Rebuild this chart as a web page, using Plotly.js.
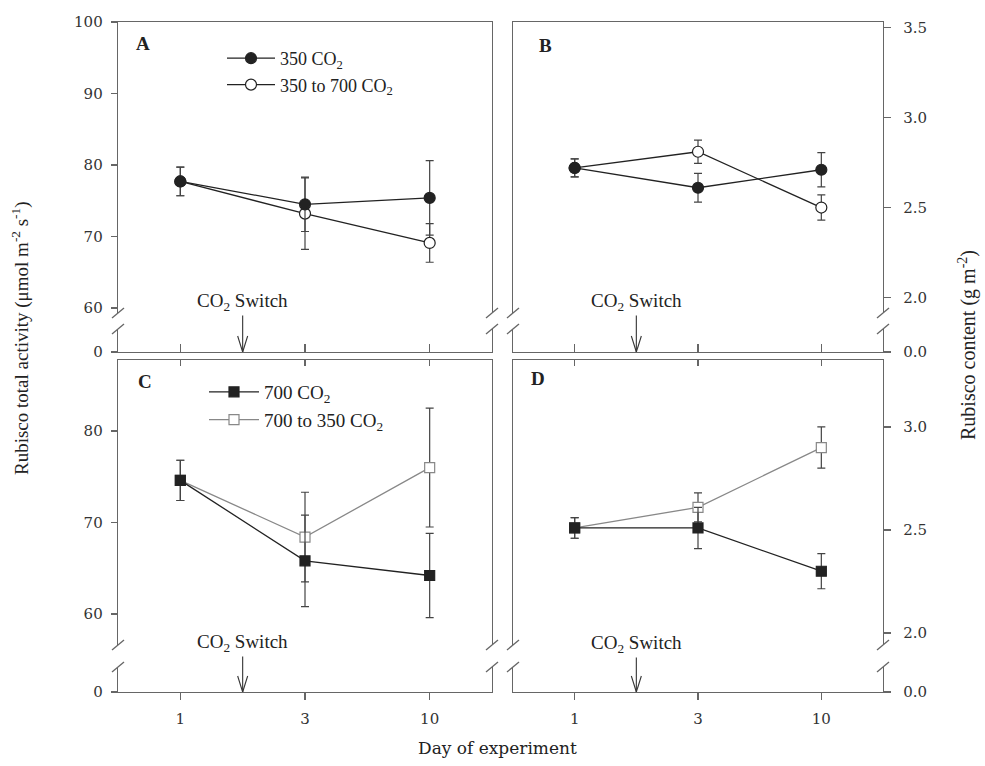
<!DOCTYPE html>
<html>
<head>
<meta charset="utf-8">
<script src="https://cdn.plot.ly/plotly-3.0.1.min.js"></script>
<style>html,body{margin:0;padding:0;background:#fff;}#chart{width:985px;height:766px;}</style>
</head>
<body>
<div id="chart"></div>
<script>
// ---------------- data ----------------
const days = ['1', '3', '10'];

// Panel A: Rubisco total activity, plants started at 350
const activity350 = [77.7, 74.5, 75.4];
const activity350Err = [2.0, 3.8, 5.2];
const activity350to700 = [77.7, 73.2, 69.1];
const activity350to700Err = [2.0, 5.0, 2.7];

// Panel B: Rubisco content, plants started at 350
const content350 = [2.72, 2.61, 2.71];
const content350Err = [0.05, 0.08, 0.095];
const content350to700 = [2.72, 2.81, 2.50];
const content350to700Err = [0.05, 0.065, 0.07];

// Panel C: Rubisco total activity, plants started at 700
const activity700 = [74.6, 65.8, 64.2];
const activity700Err = [2.2, 5.0, 4.6];
const activity700to350 = [74.6, 68.4, 76.0];
const activity700to350Err = [2.2, 4.9, 6.5];

// Panel D: Rubisco content, plants started at 700
const content700 = [2.51, 2.51, 2.30];
const content700Err = [0.05, 0.10, 0.085];
const content700to350 = [2.51, 2.61, 2.90];
const content700to350Err = [0.05, 0.07, 0.10];

// tick labels
const activityTicksTop = [60, 70, 80, 90, 100];
const activityTicksBottom = [60, 70, 80];
const contentTicksTop = [2.0, 2.5, 3.0, 3.5];
const contentTicksBottom = [2.0, 2.5, 3.0];
const breakTicks = [0];

const names = {
  c350: '350 CO<sub>2</sub>',
  s350: '350 to 700 CO<sub>2</sub>',
  c700: '700 CO<sub>2</sub>',
  s700: '700 to 350 CO<sub>2</sub>'
};
const switchLabel = 'CO<sub>2</sub> Switch';

// ---------------- layout geometry ----------------
const W = 985, H = 766;
const px = v => v / W;
const py = v => 1 - v / H;
const colL = [px(118), px(492)];
const colR = [px(513), px(883)];
const topMain = [py(313), py(22)];
const topStub = [py(352), py(329)];
const botMain = [py(645), py(360)];
const botStub = [py(692), py(667)];

const serif = 'Liberation Serif, Times New Roman, serif';
const tickFont = {family: 'DejaVu Serif, serif', size: 15, color: '#333'};
const lineCol = '#666';
const base = {showline: true, linecolor: lineCol, linewidth: 1.3, showgrid: false, zeroline: false,
  tickcolor: lineCol, tickwidth: 1.3, fixedrange: true, tickfont: tickFont};

function trace(y, err, xa, ya, opts) {
  return {
    type: 'scatter', mode: 'lines+markers', x: days, y: y, xaxis: xa, yaxis: ya,
    name: opts.name, showlegend: !!opts.legend, legend: opts.legend || 'legend',
    legendrank: opts.rank || 1000,
    line: {color: opts.lineColor, width: 1.3},
    marker: {symbol: opts.symbol, size: opts.size || 11, color: opts.fill,
      line: {color: opts.edge, width: 1.2}},
    error_y: {type: 'data', array: err, visible: true, color: '#444', thickness: 1.2, width: 4},
    cliponaxis: false
  };
}
function frameTrace(xa, ya) {
  return {type: 'scatter', mode: 'markers', x: [null], y: [null], xaxis: xa, yaxis: ya,
    showlegend: false, hoverinfo: 'skip'};
}

const openCircle = {symbol: 'circle', fill: '#fff', edge: '#222', lineColor: '#222'};
const fullCircle = {symbol: 'circle', fill: '#222', edge: '#222', lineColor: '#222'};
const openSquare = {symbol: 'square', fill: '#fff', edge: '#888', lineColor: '#888', size: 10};
const fullSquare = {symbol: 'square', fill: '#222', edge: '#222', lineColor: '#222', size: 10};

const data = [
  trace(activity350to700, activity350to700Err, 'x', 'y', Object.assign({name: names.s350, legend: 'legend', rank: 2}, openCircle)),
  trace(activity350, activity350Err, 'x', 'y', Object.assign({name: names.c350, legend: 'legend', rank: 1}, fullCircle)),
  trace(content350to700, content350to700Err, 'x2', 'y2', Object.assign({name: names.s350}, openCircle)),
  trace(content350, content350Err, 'x2', 'y2', Object.assign({name: names.c350}, fullCircle)),
  trace(activity700to350, activity700to350Err, 'x3', 'y3', Object.assign({name: names.s700, legend: 'legend2', rank: 2}, openSquare)),
  trace(activity700, activity700Err, 'x3', 'y3', Object.assign({name: names.c700, legend: 'legend2', rank: 1}, fullSquare)),
  trace(content700to350, content700to350Err, 'x4', 'y4', Object.assign({name: names.s700}, openSquare)),
  trace(content700, content700Err, 'x4', 'y4', Object.assign({name: names.c700}, fullSquare)),
  frameTrace('x5', 'y'), frameTrace('x6', 'y2'), frameTrace('x7', 'y3'), frameTrace('x8', 'y4')
];

const tickIdx = days.map((d, i) => i);
function xBottom(domain, anchor, labels) {
  return Object.assign({}, base, {domain: domain, anchor: anchor, type: 'category',
    range: [-0.5, 2.5], ticks: labels ? 'outside' : 'inside', ticklen: labels ? 7 : 8,
    showticklabels: labels, ticklabelstandoff: 6});
}
function xTop(over, domain, anchor, withTicks) {
  return Object.assign({}, base, {overlaying: over, domain: domain, anchor: anchor, side: 'top',
    type: 'linear', range: [-0.5, 2.5], tickvals: tickIdx, ticks: withTicks ? 'inside' : '',
    ticklen: 6, showticklabels: false});
}
function yMain(domain, anchor, side, range, vals, fmt) {
  return Object.assign({}, base, {domain: domain, anchor: anchor, side: side, range: range,
    tickvals: vals, tickformat: fmt, ticks: 'outside', ticklen: side === 'right' ? 7 : 6,
    mirror: true, ticklabelstandoff: side === 'right' ? 9 : 5});
}

const legendFont = {family: serif, size: 19, color: '#222'};
const layout = {
  width: W, height: H,
  margin: {l: 0, r: 0, t: 0, b: 0, autoexpand: false},
  paper_bgcolor: '#fff', plot_bgcolor: '#fff',
  font: {family: serif, color: '#222'},
  xaxis: xBottom(colL, 'y5', false),
  xaxis2: xBottom(colR, 'y6', false),
  xaxis3: xBottom(colL, 'y7', true),
  xaxis4: xBottom(colR, 'y8', true),
  xaxis5: xTop('x', colL, 'y', false),
  xaxis6: xTop('x2', colR, 'y2', false),
  xaxis7: xTop('x3', colL, 'y3', true),
  xaxis8: xTop('x4', colR, 'y4', true),
  yaxis: yMain(topMain, 'x', 'left', [59.3, 100], activityTicksTop, 'd'),
  yaxis2: yMain(topMain, 'x2', 'right', [1.914, 3.531], contentTicksTop, '.1f'),
  yaxis3: yMain(botMain, 'x3', 'left', [56.6, 87.76], activityTicksBottom, 'd'),
  yaxis4: yMain(botMain, 'x4', 'right', [1.942, 3.325], contentTicksBottom, '.1f'),
  yaxis5: yMain(topStub, 'x', 'left', [0, 1], breakTicks, 'd'),
  yaxis6: yMain(topStub, 'x2', 'right', [0, 1], breakTicks, '.1f'),
  yaxis7: yMain(botStub, 'x3', 'left', [0, 1], breakTicks, 'd'),
  yaxis8: yMain(botStub, 'x4', 'right', [0, 1], breakTicks, '.1f'),
  showlegend: true,
  legend: {x: px(222), y: py(40), xanchor: 'left', yanchor: 'top', bgcolor: 'rgba(0,0,0,0)',
    font: Object.assign({}, legendFont, {size: 18}), itemwidth: 48, tracegroupgap: 0},
  legend2: {x: px(204), y: py(373), xanchor: 'left', yanchor: 'top', bgcolor: 'rgba(0,0,0,0)',
    font: legendFont, itemwidth: 50, tracegroupgap: 0},
  annotations: [],
  shapes: []
};

// panel letters
[['A', 143, 43], ['B', 545, 45], ['C', 145, 382], ['D', 538, 378]].forEach(p => {
  layout.annotations.push({xref: 'paper', yref: 'paper', x: px(p[1]), y: py(p[2]),
    text: '<b>' + p[0] + '</b>', showarrow: false, xanchor: 'center', yanchor: 'middle',
    font: {family: serif, size: 19, color: '#222'}});
});

// CO2 switch arrows: shaft from annotation, open V head from two short lines
const switchPos = 0.5; // halfway between day 1 and day 3
[['x', 'y5', -50], ['x2', 'y6', -50], ['x3', 'y7', -49], ['x4', 'y8', -48]].forEach(a => {
  layout.annotations.push({xref: a[0], yref: a[1], x: switchPos, y: 0, text: switchLabel,
    showarrow: true, ax: 0, ay: a[2], arrowhead: 0, arrowwidth: 1.1,
    arrowcolor: '#333', standoff: 0, startstandoff: 0,
    font: {family: serif, size: 19, color: '#222'}});
  [-5, 5].forEach(dx => {
    layout.shapes.push({type: 'line', xref: a[0], yref: a[1], xsizemode: 'pixel', ysizemode: 'pixel',
      xanchor: switchPos, yanchor: 0, x0: dx, y0: 16, x1: 0, y1: 0, line: {color: '#333', width: 1.1}});
  });
});

// axis titles
layout.annotations.push({xref: 'paper', yref: 'paper', x: px(20), y: py(338), textangle: -90,
  text: 'Rubisco total activity (μmol m<sup>-2</sup> s<sup>-1</sup>)', showarrow: false,
  xanchor: 'center', yanchor: 'middle', font: {family: serif, size: 19, color: '#222'}});
layout.annotations.push({xref: 'paper', yref: 'paper', x: px(967), y: py(345), textangle: -90,
  text: 'Rubisco content (g m<sup>-2</sup>)', showarrow: false,
  xanchor: 'center', yanchor: 'middle', font: {family: serif, size: 20, color: '#222'}});
layout.annotations.push({xref: 'paper', yref: 'paper', x: px(497), y: py(748),
  text: 'Day of experiment', showarrow: false, xanchor: 'center', yanchor: 'middle',
  font: {family: 'DejaVu Serif, serif', size: 17, color: '#222'}});

// axis break marks
function slash(xf, yf) {
  layout.shapes.push({type: 'line', xref: 'paper', yref: 'paper', xsizemode: 'pixel', ysizemode: 'pixel',
    xanchor: xf, yanchor: yf, x0: -6, x1: 6, y0: -5, y1: 5, line: {color: lineCol, width: 1.3}});
}
[colL, colR].forEach(col => {
  [topMain[0], topStub[1]].forEach(yf => { slash(col[0], yf); slash(col[1], yf); });
  [botMain[0], botStub[1]].forEach(yf => { slash(col[0], yf); slash(col[1], yf); });
});

Plotly.newPlot('chart', data, layout, {staticPlot: true, displayModeBar: false});
</script>
</body>
</html>
